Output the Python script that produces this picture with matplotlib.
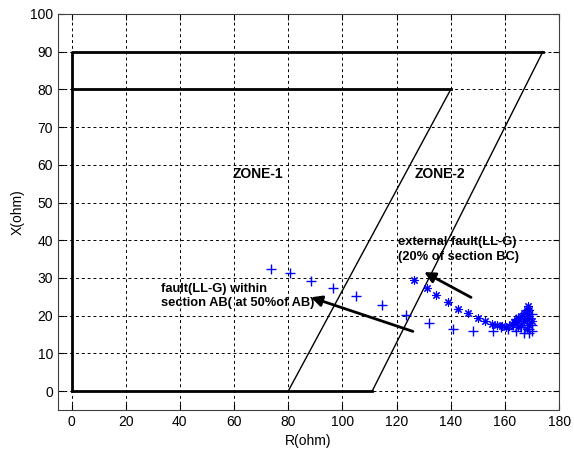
import matplotlib.pyplot as plt

plt.rcParams['font.family'] = ['Liberation Sans', 'DejaVu Sans']

# zone boundaries (R, X) in ohm
zone1_r = [80, 0, 0, 140, 80]
zone1_x = [0, 0, 80, 80, 0]
zone2_r = [111, 0, 0, 174, 111]
zone2_x = [0, 0, 90, 90, 0]

# fault(LL-G) within section AB (at 50% of AB)
ab_r = [73.5, 80.7, 88.3, 96.5, 105.0, 114.5, 123.4, 132.0, 140.8, 148.4, 155.5,
        158.5, 161.0, 163.0, 164.0, 165.0, 166.0, 167.0, 167.0, 168.0, 168.0,
        169.0, 169.0, 170.0, 170.0, 166.0, 164.0, 169.0, 170.0]
ab_x = [32.4, 31.3, 29.3, 27.4, 25.2, 22.9, 20.3, 18.1, 16.6, 15.9, 15.9,
        17.0, 16.5, 17.5, 16.0, 18.5, 17.0, 20.0, 15.5, 18.0, 21.5,
        16.5, 19.5, 17.5, 20.5, 19.5, 19.0, 15.5, 16.0]

# external fault(LL-G) (20% of section BC)
bc_r = [126.6, 131.2, 134.6, 139.1, 142.8, 146.5, 149.9, 152.7, 155.2, 157.2,
        159.0, 160.5, 161.5, 162.5, 163.5, 164.5, 165.0, 166.0, 167.0, 168.0,
        168.5, 169.0, 169.0, 168.0, 167.0, 166.0, 165.0, 168.0, 169.0, 170.0]
bc_x = [29.5, 27.3, 25.5, 23.5, 21.9, 20.6, 19.5, 18.6, 17.9, 17.5,
        17.2, 17.0, 17.3, 17.8, 18.3, 18.8, 19.5, 20.0, 20.8, 21.5,
        22.5, 21.5, 20.0, 19.0, 18.5, 17.5, 17.0, 16.5, 17.5, 18.5]

fig = plt.figure(figsize=(5.74, 4.51), dpi=100)
ax = fig.add_axes([0.101, 0.091, 0.873, 0.878])

# thick rectangular parts, thin slanted parts
ax.plot(zone2_r[1:4], zone2_x[1:4], color='black', lw=2)
ax.plot(zone1_r[2:4], zone1_x[2:4], color='black', lw=2)
ax.plot(zone2_r[:2], zone2_x[:2], color='black', lw=2)
ax.plot(zone1_r[3:], zone1_x[3:], color='black', lw=1)
ax.plot(zone2_r[3:], zone2_x[3:], color='black', lw=1)

ax.plot(ab_r, ab_x, linestyle='none', marker='+', color='blue', markersize=7, mew=1)
ax.plot(bc_r, bc_x, linestyle='none', marker=(8, 2, 0), color='blue', markersize=6, mew=0.8)

ax.text(69, 57.6, 'ZONE-1', fontsize=10, fontweight='bold', ha='center', va='center')
ax.text(136, 57.6, 'ZONE-2', fontsize=10, fontweight='bold', ha='center', va='center')

ax.annotate('', xy=(87.4, 25.1), xytext=(127.0, 15.6),
            arrowprops=dict(arrowstyle='-|>', color='black', lw=2, mutation_scale=16))
ax.annotate('', xy=(129.3, 31.9), xytext=(148.4, 24.5),
            arrowprops=dict(arrowstyle='-|>', color='black', lw=2, mutation_scale=16))
ax.text(33, 25.2, 'fault(LL-G) within\nsection AB( at 50%of AB)', fontsize=9.3,
        fontweight='bold', ha='left', va='center', linespacing=1.3)
ax.text(120.6, 37.5, 'external fault(LL-G)\n(20% of section BC)', fontsize=9.3,
        fontweight='bold', ha='left', va='center', linespacing=1.3)

ax.set_xlim(-5, 180)
ax.set_ylim(-5, 100)
ax.set_xticks(range(0, 181, 20))
ax.set_yticks(range(0, 101, 10))
ax.grid(True, color='black', linestyle=(0, (3, 3)), linewidth=0.7)
ax.tick_params(direction='in', top=True, right=True, labelsize=10, length=4)
for s in ax.spines.values():
    s.set_linewidth(0.8)
    s.set_color('#404040')
ax.set_xlabel('R(ohm)', fontsize=10)
ax.set_ylabel('X(ohm)', fontsize=10)

fig.savefig('out.png', dpi=100)
